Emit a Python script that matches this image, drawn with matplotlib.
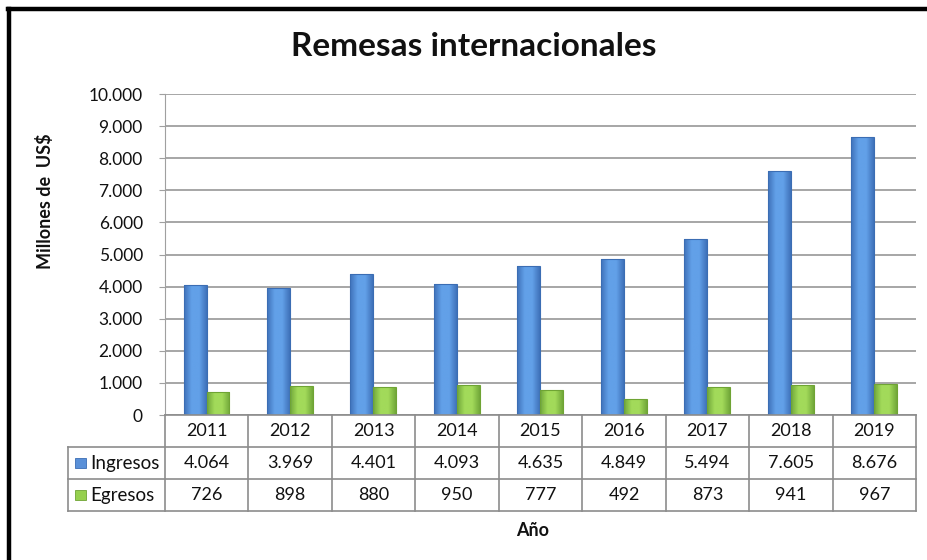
import matplotlib
matplotlib.use("Agg")
import matplotlib.pyplot as plt
import numpy as np
from matplotlib.patches import Rectangle
from matplotlib.lines import Line2D

plt.rcParams['font.family'] = ['Lato', 'DejaVu Sans']

years = ['2011', '2012', '2013', '2014', '2015', '2016', '2017', '2018', '2019']
ingresos = [4064, 3969, 4401, 4093, 4635, 4849, 5494, 7605, 8676]
egresos = [726, 898, 880, 950, 777, 492, 873, 941, 967]
series_names = ['Ingresos', 'Egresos']
yticks = [0, 1000, 2000, 3000, 4000, 5000, 6000, 7000, 8000, 9000, 10000]

W, H = 928, 560
fig = plt.figure(figsize=(W / 100, H / 100), dpi=100)

def px_axes(x0, y0, x1, y1):
    return fig.add_axes([x0 / W, (H - y1) / H, (x1 - x0) / W, (y1 - y0) / H])

# outer border (partial, like the screenshot)
fig.add_artist(Line2D([9.5 / W, 9.5 / W], [0, 1 - 8.5 / H], color='black', lw=3.2, transform=fig.transFigure))
fig.add_artist(Line2D([8 / W, 1], [1 - 8.5 / H, 1 - 8.5 / H], color='black', lw=3.2, transform=fig.transFigure))

blue = '#5A90D8'
blue_edge = '#3B6DB3'
green = '#96D04E'
green_edge = '#6FA434'

ax = px_axes(165, 94, 916, 415)
x = np.arange(len(years))
bw = 0.275

def gradient_bars(bars, c_mid, c_edge):
    from matplotlib.colors import LinearSegmentedColormap
    cmap = LinearSegmentedColormap.from_list('g', [c_edge, c_mid, c_mid, c_edge])
    grad = np.linspace(0, 1, 64).reshape(1, -1)
    for b in bars:
        bx, by = b.get_x(), b.get_y()
        bwid, bh = b.get_width(), b.get_height()
        im = ax.imshow(grad, extent=[bx, bx + bwid, by, by + bh], aspect='auto',
                       cmap=cmap, zorder=3, interpolation='bilinear')
        im.set_clip_path(b)
        b.set_facecolor('none')

b1 = ax.bar(x - 0.14, ingresos, bw, color=blue, edgecolor=blue_edge, lw=0.8, zorder=4)
b2 = ax.bar(x + 0.135, egresos, bw, color=green, edgecolor=green_edge, lw=0.8, zorder=4)
gradient_bars(b1, '#62A0E8', '#3F72BA')
gradient_bars(b2, '#A2DA5A', '#72A83A')

ax.set_xlim(-0.5, len(years) - 0.5)
ax.set_ylim(0, 10000)
ax.set_yticks(yticks)
ax.set_yticklabels([f"{v:,}".replace(',', '.') for v in yticks], fontsize=12.5)
ax.tick_params(axis='y', length=4, color='#A0A0A0', pad=12)
ax.set_xticks([])
ax.grid(axis='y', color='#A6A6A6', lw=1.4, zorder=0)
for s in ['top', 'right', 'bottom']:
    ax.spines[s].set_visible(False)
ax.spines['left'].set_color('#A0A0A0')
ax.set_axisbelow(True)
for t in ax.get_yticklabels():
    t.set_color('#111111')

# data table
lab_w = (165 - 68) / ((916 - 165) / len(years))
tax = px_axes(68, 415, 916, 511)
tax.set_xlim(-0.5 - lab_w, len(years) - 0.5)
tax.set_ylim(3, 0)
tax.axis('off')
gc = '#8C8C8C'
lw = 1.2
xl = -0.5 - lab_w
xr = len(years) - 0.5
tax.plot([-0.5, xr], [0, 0], color=gc, lw=lw, clip_on=False)
for r in (1, 2, 3):
    tax.plot([xl, xr], [r, r], color=gc, lw=lw, clip_on=False)
tax.plot([xl, xl], [1, 3], color=gc, lw=lw, clip_on=False)
for i in range(len(years) + 1):
    tax.plot([i - 0.5, i - 0.5], [0, 3], color=gc, lw=lw, clip_on=False)

for i, yv in enumerate(years):
    tax.text(i, 0.5, yv, ha='center', va='center', fontsize=13, color='#111111')
for r, (vals, nm, col, ec) in enumerate([(ingresos, series_names[0], blue, blue_edge),
                                          (egresos, series_names[1], green, green_edge)], start=1):
    for i, v in enumerate(vals):
        tax.text(i, r + 0.5, f"{v:,}".replace(',', '.'), ha='center', va='center',
                 fontsize=13, color='#111111')
    tax.add_patch(Rectangle((xl + 0.085, r + 0.33), 0.135, 0.34, facecolor=col,
                            edgecolor=ec, lw=0.6, clip_on=False))
    tax.text(xl + 0.27, r + 0.5, nm, ha='left', va='center', fontsize=13.5, color='#111111')

fig.text(474 / W, 1 - 46 / H, 'Remesas internacionales', ha='center', va='center',
         fontsize=24, fontweight='bold', color='#111111')
fig.text(45 / W, 1 - 201 / H, 'Millones de  US$', ha='center', va='center',
         rotation=90, fontsize=13, fontweight='bold', color='#111111')
fig.text(533 / W, 1 - 530 / H, 'Año', ha='center', va='center',
         fontsize=13, fontweight='bold', color='#111111')

fig.savefig('out.png', dpi=100, facecolor='white')
